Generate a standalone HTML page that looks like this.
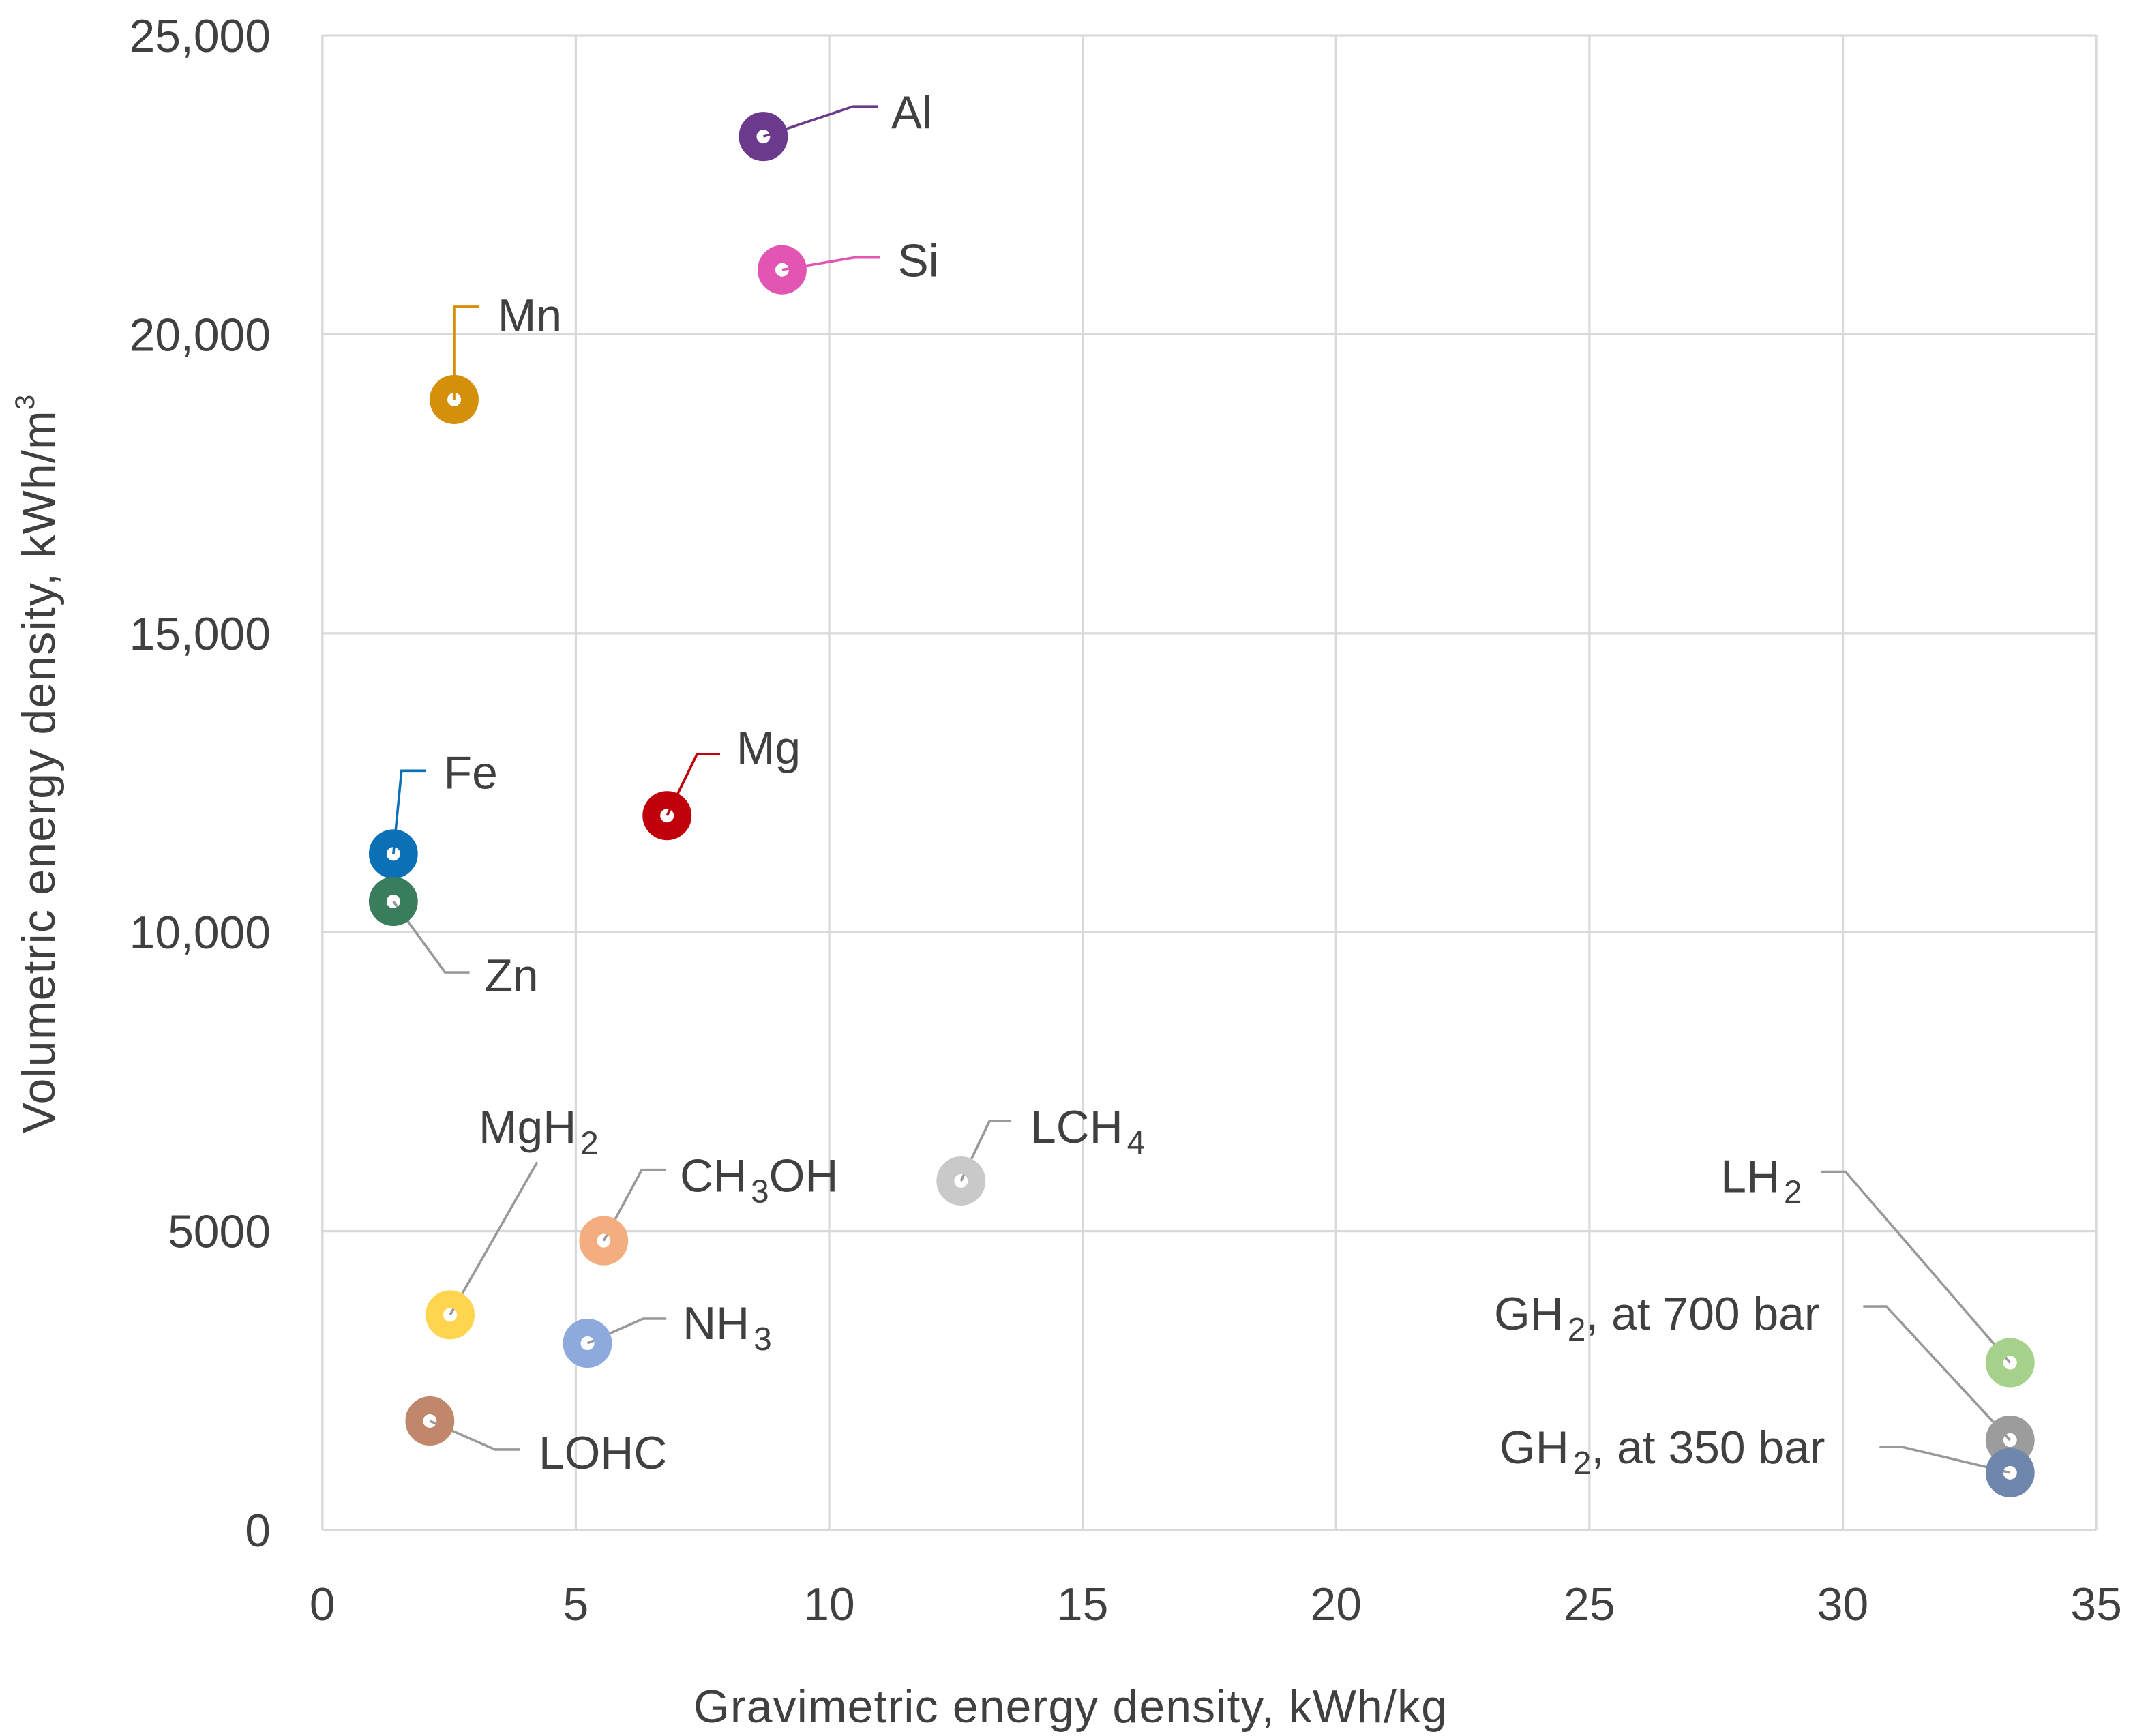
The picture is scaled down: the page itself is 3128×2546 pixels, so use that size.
<!DOCTYPE html>
<html><head><meta charset="utf-8"><style>
html,body{margin:0;padding:0;background:#fff}
svg{display:block}
text{font-family:"Liberation Sans",sans-serif;fill:#404040}
</style></head><body>
<svg id="chart" width="3128" height="2546" viewBox="0 0 1568 1273" preserveAspectRatio="none" xmlns="http://www.w3.org/2000/svg">
<g id="grid"></g>
<g id="axes"></g>
<g id="leaders"></g>
<g id="marks"></g>
<g id="labels"></g>
<text x="787" y="1263" font-size="34" text-anchor="middle" fill="#595959" letter-spacing="0.6">Gravimetric energy density, kWh/kg</text>
<text transform="translate(40,560) rotate(-90)" font-size="34" text-anchor="middle" fill="#595959" letter-spacing="0.6">Volumetric energy density, kWh/m<tspan font-size="20" dy="-15">3</tspan></text>
</svg>
<script>
const names = ["Al","Si","Mn","Fe","Zn","Mg","LCH4","CH3OH","MgH2","NH3","LOHC","LH2","GH2 700","GH2 350"];
const gravimetric = [8.7,9.07,2.6,1.4,1.4,6.8,12.6,5.55,2.52,5.23,2.12,33.3,33.3,33.3];
const volumetric = [23310,21080,18910,11310,10515,11950,5840,4840,3600,3125,1825,2800,1505,960];
const xTicks = [0,5,10,15,20,25,30,35];
const yTicks = [0,5000,10000,15000,20000,25000];
const yTickLabels = ["0","5000","10,000","15,000","20,000","25,000"];
// styling (not data)
const colors = ["#6b3a8c","#e255b3","#d4900a","#0b70b5","#3a7d5c","#c0000b","#c9c9c9","#f4ad7e","#ffd54f","#8eaadc","#c0876a","#a6d18a","#9c9c9c","#6f86ad"];
const leaderColors = ["#6b3a8c","#e255b3","#d4900a","#0b70b5","#999","#c0000b","#999","#999","#999","#999","#999","#999","#999","#999"];
const leaderGeo = [[66,-22,84,-22],[53,-9,72,-9],[0,-68,18,-68],[6,-61,24,-61],[38,52,56,52],[22,-45,39,-45],[21,-44,37,-44],[28,-52,46,-52],[64,-112,64,-112],[41,-18,58,-18],[48,21,66,21],[-121,-140,-139,-140],[-91,-98,-108,-98],[-80,-19,-96,-19]];
const labelGeo = [[94,-6,"start"],[85,5,"start"],[32,-50,"start"],[37,-48,"start"],[67,66,"start"],[51,-38,"start"],[51,-28,"start"],[56,-36,"start"],[21,-126,"start"],[70,-3,"start"],[80,35,"start"],[-153,-125,"end"],[-140,-81,"end"],[-136,-7,"end"]];
const labelParts = [[["Al"]],[["Si"]],[["Mn"]],[["Fe"]],[["Zn"]],[["Mg"]],[["LCH"],["4",1]],[["CH"],["3",1],["OH"]],[["MgH"],["2",1]],[["NH"],["3",1]],[["LOHC"]],[["LH"],["2",1]],[["GH"],["2",1],[", at 700 bar"]],[["GH"],["2",1],[", at 350 bar"]]];
const L=237,R=1541,T=26,B=1122;
const sx=v=>L+(v-0)/35*(R-L);
const sy=v=>B-(v-0)/25000*(B-T);
const NS="http://www.w3.org/2000/svg";
function mk(tag,attrs,parent){const e=document.createElementNS(NS,tag);for(const k in attrs)e.setAttribute(k,attrs[k]);parent.appendChild(e);return e;}
const grid=document.getElementById('grid'),axes=document.getElementById('axes');
xTicks.forEach((t,i)=>{
  const g=mk('line',{x1:sx(t),x2:sx(t),y1:T,y2:B,stroke:'#d9d9d9','stroke-width':1.6},grid);
  
  
  const tx=mk('text',{x:sx(t),y:1188,'font-size':34,'text-anchor':'middle',fill:'#595959'},axes);
  
  
  tx.textContent=String(t);
});
yTicks.forEach((t,i)=>{
  const g=mk('line',{x1:L,x2:R,y1:sy(t),y2:sy(t),stroke:'#d9d9d9','stroke-width':1.6},grid);
  
  
  const tx=mk('text',{x:199,y:sy(t)+12,'font-size':34,'text-anchor':'end',fill:'#595959'},axes);
  
  
  tx.textContent=yTickLabels[i];
});
const leaders=document.getElementById('leaders'),marks=document.getElementById('marks'),labels=document.getElementById('labels');
names.forEach((n,i)=>{
  const px=sx(gravimetric[i]),py=sy(volumetric[i]);
  const g=leaderGeo[i];
  const ln=mk('polyline',{points:`${px},${py} ${px+g[0]},${py+g[1]} ${px+g[2]},${py+g[3]}`,fill:'none',stroke:leaderColors[i],'stroke-width':1.8},leaders);
  
  
  const c=mk('circle',{cx:px,cy:py,r:11.5,fill:'none',stroke:colors[i],'stroke-width':13},marks);
  
  
  const lg=labelGeo[i];
  const t=mk('text',{x:px+lg[0],y:py+lg[1],'font-size':34,'text-anchor':lg[2]},labels);
  
  
  labelParts[i].forEach(p=>{
    const s=mk('tspan',{},t);
    if(p[1]){s.setAttribute('font-size','24');s.setAttribute('dy','8');s.setAttribute('dx','3');}
    else if(t.childNodes.length>1){s.setAttribute('dy','-8');}
    s.textContent=p[0];
  });
});
mk('line',{x1:L,x2:L,y1:T,y2:B,stroke:'#d9d9d9','stroke-width':1.6},axes);
mk('line',{x1:L,x2:R,y1:B,y2:B,stroke:'#d9d9d9','stroke-width':1.6},axes);
</script>
</body></html>
